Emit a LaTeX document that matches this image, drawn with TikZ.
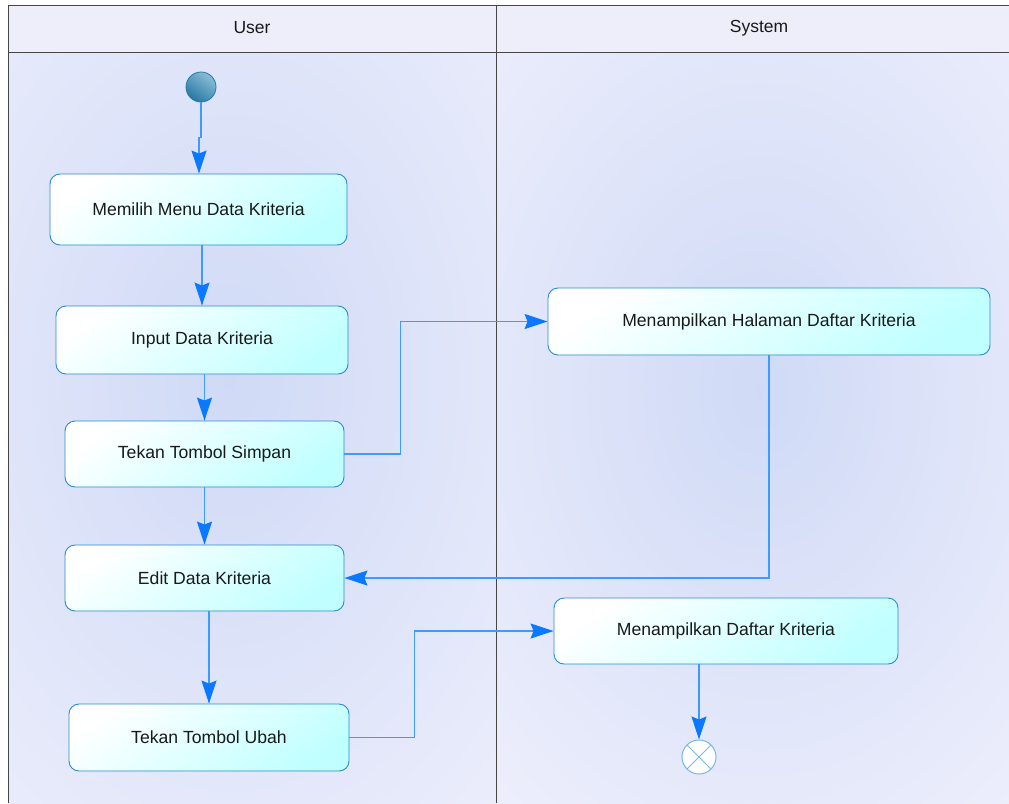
\documentclass[tikz,border=0pt]{standalone}
\usepackage{fontspec}
\setmainfont{Liberation Sans}
\usetikzlibrary{arrows.meta}

\definecolor{lanebg}{RGB}{238,239,252}
\definecolor{glow}{RGB}{208,218,246}
\definecolor{headbg}{RGB}{238,238,250}
\definecolor{frameline}{RGB}{70,70,70}
\definecolor{boxline}{RGB}{40,140,205}
\definecolor{boxcyan}{RGB}{192,255,255}
\definecolor{flow}{RGB}{60,155,255}
\definecolor{tipblue}{RGB}{10,120,255}
\definecolor{startdark}{RGB}{40,120,165}
\definecolor{startlight}{RGB}{140,190,215}
\definecolor{endline}{RGB}{120,185,225}

\tikzset{
  act/.style={draw=boxline, line width=0.9pt, rounded corners=10pt,
    top color=white, bottom color=boxcyan, shading angle=35,
    font=\fontsize{17.6}{21}\selectfont, text=black!90},
  flowline/.style={draw=flow, line width=1.1pt,
    -{Stealth[length=23pt,width=15pt,inset=3pt,color=tipblue]}},
  lanehead/.style={font=\fontsize{17.5}{21}\selectfont, text=black!90},
  frame/.style={draw=frameline, line width=0.9pt}
}

\begin{document}
\begin{tikzpicture}[x=1pt,y=-1pt]
\useasboundingbox (0,0) rectangle (1009,803);
\fill[white] (0,0) rectangle (1009,803);

% lanes and their soft glow
\fill[lanebg] (8,52) rectangle (1009,803);
\begin{scope}
  \clip (8,52) rectangle (496,803);
  \shade[inner color=glow, outer color=lanebg] (230,380) ellipse [x radius=440, y radius=640];
\end{scope}
\begin{scope}
  \clip (496,52) rectangle (1009,803);
  \shade[inner color=glow, outer color=lanebg] (760,390) ellipse [x radius=420, y radius=560];
\end{scope}

% header band
\fill[headbg] (8,5) rectangle (1009,52);
\node[lanehead] (hUser) at (252,28) {User};
\node[lanehead] (hSystem) at (759,28) {System};

% swimlane frame
\draw[frame] (8,5) -- (1009,5);
\draw[frame] (8,52) -- (1009,52);
\draw[frame] (8,5) -- (8,803);
\draw[frame] (496,5) -- (496,803);

% start and end
\node[circle, minimum size=30pt, inner sep=0pt, draw=startdark, line width=0.8pt,
  top color=startlight, bottom color=startdark, shading angle=-35] (start) at (201,87) {};
\node[circle, minimum size=34pt, inner sep=0pt, draw=endline, line width=1pt, fill=white,
  path picture={
    \draw[endline, line width=1pt]
      (path picture bounding box.south west) -- (path picture bounding box.north east)
      (path picture bounding box.north west) -- (path picture bounding box.south east);
  }] (finish) at (699,757) {};

% activities
\node[act, minimum width=297pt, minimum height=71pt] (a1) at (198.5,209.5) {Memilih Menu Data Kriteria};
\node[act, minimum width=292pt, minimum height=68pt] (a2) at (202,340) {Input Data Kriteria};
\node[act, minimum width=279pt, minimum height=66pt] (a3) at (204.5,454) {Tekan Tombol Simpan};
\node[act, minimum width=279pt, minimum height=66pt] (a4) at (204.5,578) {Edit Data Kriteria};
\node[act, minimum width=280pt, minimum height=67pt] (a5) at (209,737.5) {Tekan Tombol Ubah};
\node[act, minimum width=442pt, minimum height=67pt] (a6) at (769,321.5) {Menampilkan Halaman Daftar Kriteria};
\node[act, minimum width=344pt, minimum height=66pt] (a7) at (726,631) {Menampilkan Daftar Kriteria};

% control flow
\draw[flowline] (start.south) -- ++(0,35) -- ++(-2,0) -- (a1.north -| 199,0);
\draw[flowline] (a1.south -| a2.north) -- (a2.north);
\draw[flowline] (a2.south -| a3.north) -- (a3.north);
\draw[flowline] (a3.south) -- (a4.north);
\draw[flowline] (a4.south -| a5.north) -- (a5.north);
\draw[flowline] (a3.east) -- ++(56,0) |- (a6.west);
\draw[flowline] (a6.south) |- (a4.east);
\draw[flowline] (a5.east) -- ++(65,0) |- (a7.west);
\draw[flowline] (a7.south -| finish.north) -- (finish.north);
\end{tikzpicture}
\end{document}
